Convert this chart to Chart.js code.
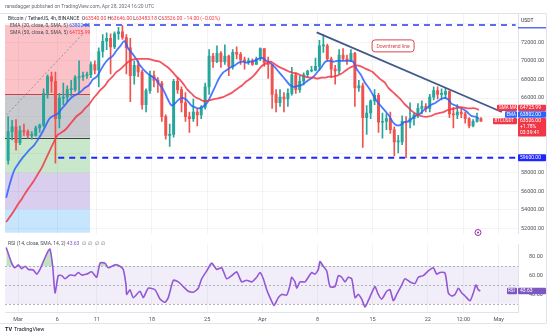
<!DOCTYPE html>
<html>
<head>
<meta charset="utf-8">
<title>BTCUSDT 4h</title>
<script src="https://cdn.jsdelivr.net/npm/chart.js@4.4.1/dist/chart.umd.min.js"></script>
<style>
  body { margin: 0; background: #fff; }
  #wrap { position: relative; width: 554px; height: 334px; overflow: hidden; background: #fff; }
  #wrap canvas { position: absolute; left: 0; }
  #main { top: 0; }
  #rsi { top: 238px; }
</style>
</head>
<body>
<div id="wrap">
  <canvas id="main" width="554" height="240"></canvas>
  <canvas id="rsi" width="554" height="96"></canvas>
</div>
<script>
// time is in days counted from Mar 1 2024 00:00 UTC, candles are 12h
const firstDay = -1.5;
const stepDay = 0.5;
const open0 = 59300;

const closes = [
  62400,62900,61200,62500,62400,62000,62000,62800,63100,66500,
  68300,67800,63800,66000,66100,66900,66900,68200,68300,68400,
  68500,69600,69000,71000,72100,72400,71500,72900,73100,72500,
  71400,68400,69500,68800,65300,66800,68400,67900,67600,64000,
  62000,62100,67800,66900,65500,64000,63800,64500,64200,65000,
  67200,70500,69900,70800,69900,70500,69400,70900,70700,70100,
  69900,70000,69600,70200,71300,69800,69600,66400,65500,66100,
  65900,66500,68500,66900,67800,68500,68900,69000,69400,71600,
  71600,70200,69100,68900,70600,70200,70000,70800,67100,67300,
  63900,64400,65700,66300,63400,63500,63800,62600,61300,61300,
  63500,63400,63800,64200,64900,65100,64900,66100,66800,66400,
  66400,66700,64300,64200,64500,64300,63800,63000,63500,63800,
  63526
];
const highs = [
  64000,63600,63700,63000,63200,62600,62400,63000,63200,67000,
  68500,68800,68800,66500,67600,67300,67900,68400,70000,68800,
  68800,69900,70000,71400,72800,73000,72900,73100,73600,73780,
  72800,72400,70000,70000,69000,67000,68900,68900,68200,67800,
  64200,63200,68000,68200,67200,66600,64500,65900,64900,65200,
  67600,71200,70800,71600,71000,71700,70600,71200,71500,70900,
  70400,70300,70200,70400,71400,71300,70400,69600,66900,66900,
  66600,67000,69300,68700,68400,68700,69000,69400,70300,72200,
  72800,71800,70400,69500,71200,71300,70600,71200,70900,67900,
  67600,65200,65800,66900,66500,64400,64300,64500,62900,62000,
  64100,64000,65500,64400,65400,65700,65400,66400,67200,67200,
  67000,67100,66800,65000,65300,64800,64500,63900,63700,64400,
  63900
];
const lows = [
  58900,61500,60400,61000,62000,61700,61600,61900,62300,62900,
  66000,66600,59000,62800,65300,65600,66200,66700,66600,67900,
  68100,68200,68600,67200,70400,71200,68600,71300,72300,72300,
  68600,65600,67500,68300,64800,64500,66500,67200,66600,63500,
  61600,60800,61800,66500,64500,63500,62300,63500,63000,63800,
  64800,66400,69300,69800,69300,69600,68400,69100,70200,69600,
  69100,69600,69500,69600,70000,69400,68100,64900,64500,65100,
  64500,65100,66300,66500,66600,67400,68200,68800,68900,69000,
  70900,70000,68200,67500,68600,70000,69600,69900,65100,66700,
  60700,62100,63800,65300,62300,61700,62600,62200,59800,60100,
  61000,59600,62800,63100,63900,64300,64500,64500,65800,65900,
  65800,66000,63900,62800,63800,63900,63300,62800,62900,63400,
  63480
];
const ema20 = [
  55300,56900,58200,58900,59500,60000,60500,60900,61500,62200,
  63000,63800,64100,64300,64800,65300,65800,66200,66400,66700,
  67100,67400,68000,68300,69000,69700,70200,70500,71100,71600,
  72100,71300,70800,70200,69500,69000,68600,68300,68000,67400,
  66800,65900,65200,65500,65900,66000,65700,65200,65000,64900,
  65100,65500,66300,67200,68100,68700,69000,69300,69500,69800,
  69900,69800,69900,70000,70200,70300,70000,69800,69400,68900,
  68400,67900,67400,67200,67300,67400,67700,68000,68300,68800,
  69300,69900,70000,69900,70000,70000,70000,70000,69900,69100,
  68500,67700,67100,66400,65700,65200,64700,64200,63500,63100,
  63100,63400,63500,63800,64100,64300,64700,65000,65300,65500,
  65800,66000,65900,65400,65200,65000,64800,64500,64100,64000,
  63802
];
const sma50 = [
  52700,53300,53900,54600,55200,55900,56500,57100,57800,58500,
  59400,60300,61200,62000,62300,62600,63100,63600,64100,64400,
  64900,65300,65900,66400,66900,67300,67900,68300,68800,69100,
  69500,69900,70100,70200,70200,70200,70200,70100,70000,69900,
  69600,69300,68900,68400,68000,67500,66900,66500,66100,65900,
  65700,65700,65800,65900,66000,66100,66300,66500,66800,67100,
  67400,67800,68100,68500,69000,69500,69700,69900,69700,69400,
  69200,69000,68800,68700,68600,68400,68300,68200,68200,68100,
  68200,68200,68300,68300,68400,68600,68900,69200,69400,69500,
  69400,69200,69000,68800,68400,68000,67700,67100,66700,66300,
  65900,65400,65000,64600,64300,64100,64000,64000,64100,64300,
  64400,64500,64700,64800,64900,65000,65000,64900,64900,64900,
  64726
];

const rsiDay = [
  -1.5,-0.8,-0.38,0.04,0.47,0.89,1.31,1.94,2.37,2.79,3.21,3.85,4.06,4.4,4.7,5.11,5.55,5.96,6.6,7.23,
  7.65,8.08,8.72,9.35,9.99,10.41,11.04,11.46,12.31,12.94,13.36,13.71,13.79,14.21,14.63,15.48,15.9,16.54,17.39,18.02,
  18.65,19.07,19.71,20.34,20.98,21.61,22.25,22.88,23.31,23.95,24.58,25.22,25.85,26.48,27.12,27.75,28.39,29.02,29.66,30.29,
  30.71,31.13,31.56,31.98,32.49,33.03,33.46,34.1,34.52,34.73,35.15,35.37,35.79,36.42,36.84,37.27,37.69,38.11,38.32,38.74,
  39.18,39.59,40.23,40.65,41.08,41.5,41.92,42.35,42.77,43.19,43.62,44.04,44.45,44.89,45.3,45.72,46.15,46.79,47.21,47.63,
  48.06,48.69,49.11,49.75,50.38,50.8,51.43,52.07,52.7,53.13,53.55,54.19,54.61,55.04,55.46,55.88,56.31,56.73,57.36,57.78,
  58.12,58.41,58.67
];
const rsiVal = [
  90,73.3,68.3,71.6,67.3,70,66.6,66,61.6,66.6,75,86.6,88.3,70,41.6,60,60,56.6,60.6,60,
  63.3,60.6,61.6,64,58.3,73.3,73.3,68.3,71.6,70,66.6,50,40,45,36.6,43.3,36.6,46.6,45,35,
  31.6,36.6,55,53.3,48.3,43.3,42.3,46.6,56.6,65,73.3,66.6,68.3,56.6,60,64,53.3,55,53.3,58.3,
  63.3,56.6,45,36.6,28.3,36.6,40,39.3,50,58.3,53.3,46.6,53.3,53.3,58.3,63.3,61.6,66.6,75,70,
  65,48.3,48.3,60,58.3,53.3,58.3,56.6,36.6,40,35,26.6,33.3,41.6,48.3,40,35,43.3,45,33.3,
  40,50,56.6,53.3,51.6,58.3,60,65,68.3,61.6,63.3,62.6,41.6,38.3,40,46.6,41.6,38.3,33.3,41.6,
  50,45,43.63
];

// last 4h bar shown in the legend
const lastBar = { o: 63540, h: 63646, l: 63483.18, c: 63526 };

const gridPrices = [52000,54000,56000,58000,60000,62000,64000,66000,68000,70000,72000,74000];
const priceTicks = [52000,54000,56000,58000,66000,68000,70000,72000];
const rsiTicks = [40,60,80];
const timeTicks = [0,5,10,17,24,31,38,45,52,56.5,61];
const timeLabels = ['Mar','6','11','18','25','Apr','8','15','22','12:00','May'];

// drawings
const supportLevel = 59600, supportFrom = 5.1;
const topLevel = 73850, topFrom = 8.25;
const trendFrom = [37.9, 73050], trendTo = [61.4, 64500];
const fibLevels = [73860, 66390, 61760, 57970, 54070, 51550];
const fibFrom = -1.65, fibTo = 9.14;
const fibDiag = [[-1.43, 64210], [8.38, 73020]];
const noteAt = [47.6, 71600];

const xMin = -1.65, xMax = 63.45;
const upCol = '#26a69a', downCol = '#ef5350';
const FONT = 'Roboto, "Liberation Sans", sans-serif';

const candles = closes.map((c, i) => ({
  x: firstDay + stepDay * i + stepDay / 2,
  o: i ? closes[i - 1] : open0,
  h: highs[i], l: lows[i], c
}));
const candleCol = candles.map(k => k.c >= k.o ? upCol : downCol);
const lineDays = closes.map((_, i) => firstDay + stepDay * i);

function box(ctx, x, y, w, h, bg, r) {
  ctx.fillStyle = bg;
  ctx.beginPath();
  ctx.roundRect(x, y, w, h, r || 1);
  ctx.fill();
}
function write(ctx, s, x, y, color, size, weight) {
  ctx.font = (weight || '') + ' ' + size + 'px ' + FONT;
  ctx.fillStyle = color;
  ctx.fillText(s, x, y);
  return x + ctx.measureText(s).width;
}

const mainOverlay = {
  id: 'mainOverlay',
  beforeDatasetsDraw(chart) {
    const { ctx, scales: { x, y } } = chart;
    const fills = ['rgba(242,54,69,0.3)', 'rgba(120,123,134,0.4)', 'rgba(76,175,80,0.3)',
                   'rgba(103,58,183,0.25)', 'rgba(33,150,243,0.25)'];
    const x0 = x.getPixelForValue(fibFrom), x1 = x.getPixelForValue(fibTo);
    ctx.save();
    for (let i = 0; i < fibLevels.length - 1; i++) {
      const ya = y.getPixelForValue(fibLevels[i]), yb = y.getPixelForValue(fibLevels[i + 1]);
      ctx.fillStyle = fills[i];
      ctx.fillRect(x0, ya, x1 - x0, yb - ya);
    }
    ctx.lineWidth = 1;
    ctx.strokeStyle = 'rgba(200,50,55,0.9)';
    let ly = Math.round(y.getPixelForValue(fibLevels[1])) + 0.5;
    ctx.beginPath(); ctx.moveTo(x0, ly); ctx.lineTo(x1, ly); ctx.stroke();
    ctx.strokeStyle = 'rgba(50,50,55,0.9)';
    ly = Math.round(y.getPixelForValue(fibLevels[2])) + 0.5;
    ctx.beginPath(); ctx.moveTo(x0, ly); ctx.lineTo(x1, ly); ctx.stroke();
    ctx.restore();
  },
  afterDraw(chart) {
    const { ctx, scales: { x, y } } = chart;
    ctx.save();
    ctx.textBaseline = 'middle';

    // legend block
    write(ctx, 'ranadagger published on TradingView.com, Apr 28, 2024 16:20 UTC', 5, 7, '#6a6d78', 5);
    let cx = write(ctx, 'Bitcoin / TetherUS, 4h, BINANCE', 8, 19, '#2a2e39', 5);
    const red = '#f23645';
    cx = write(ctx, '  O', cx, 19, '#2a2e39', 5); cx = write(ctx, lastBar.o.toFixed(2), cx, 19, red, 5);
    cx = write(ctx, ' H', cx, 19, '#2a2e39', 5); cx = write(ctx, lastBar.h.toFixed(2), cx, 19, red, 5);
    cx = write(ctx, ' L', cx, 19, '#2a2e39', 5); cx = write(ctx, lastBar.l.toFixed(2), cx, 19, red, 5);
    cx = write(ctx, ' C', cx, 19, '#2a2e39', 5); cx = write(ctx, lastBar.c.toFixed(2), cx, 19, red, 5);
    const chg = lastBar.c - lastBar.o;
    write(ctx, ' \u2212' + Math.abs(chg).toFixed(2) + ' (\u2212' + Math.abs(chg / lastBar.o * 100).toFixed(2) + '%)', cx, 19, red, 5);
    cx = write(ctx, 'EMA (20, close, 0, SMA, 5)', 10, 26, '#4a4d58', 5);
    write(ctx, ' ' + ema20[ema20.length - 1].toFixed(2), cx, 26, '#2962ff', 5);
    cx = write(ctx, 'SMA (50, close, 0, SMA, 5)', 10, 33, '#4a4d58', 5);
    write(ctx, ' 64725.99', cx, 33, red, 5);

    // price scale header
    write(ctx, 'USDT', 521, 21, '#2a2e39', 5);
    ctx.fillStyle = '#5b6cf0';
    ctx.fillRect(518, 27, 28, 1.5);

    // note on the trend line
    const nx = x.getPixelForValue(noteAt[0]), ny = y.getPixelForValue(noteAt[1]);
    ctx.fillStyle = 'rgba(255,255,255,0.9)';
    ctx.strokeStyle = '#d8474f';
    ctx.lineWidth = 1;
    ctx.beginPath(); ctx.roundRect(nx - 21, ny - 6, 42, 12, 3); ctx.fill(); ctx.stroke();
    ctx.textAlign = 'center';
    write(ctx, 'Downtrend line', nx, ny + 0.5, '#d8474f', 5);
    ctx.textAlign = 'left';

    // value tags on the price scale
    const priceY = y.getPixelForValue(closes[closes.length - 1]);
    const pTop = priceY - 3.2, emaTop = pTop - 6.6, smaTop = emaTop - 6.6;
    box(ctx, 518, smaTop, 28, 6.4, red);
    write(ctx, '64725.99', 520, smaTop + 3.3, '#fff', 5);
    box(ctx, 497, smaTop, 20, 6.4, red);
    write(ctx, 'SMA MA', 499, smaTop + 3.3, '#fff', 4.5);
    box(ctx, 518, emaTop, 28, 6.4, '#2962ff');
    write(ctx, ema20[ema20.length - 1].toFixed(2), 520, emaTop + 3.3, '#fff', 5);
    box(ctx, 505, emaTop, 12, 6.4, '#2962ff');
    write(ctx, 'EMA', 506.5, emaTop + 3.3, '#fff', 4.5);
    box(ctx, 518, pTop, 28, 18.5, red);
    write(ctx, lastBar.c.toFixed(2), 520, pTop + 3.3, '#fff', 5);
    write(ctx, '+1.78%', 520, pTop + 9.2, '#fff', 5);
    write(ctx, '03:39:41', 520, pTop + 15, '#fff', 5);
    box(ctx, 493, pTop, 24, 6.4, red);
    write(ctx, 'BTCUSDT', 494.5, pTop + 3.3, '#fff', 4.5);

    const sy = y.getPixelForValue(supportLevel);
    box(ctx, 518, sy - 3.5, 28, 7, '#1e26ff');
    write(ctx, supportLevel.toFixed(2), 520, sy, '#fff', 5);

    // alert marker
    ctx.strokeStyle = '#9c27b0';
    ctx.lineWidth = 1;
    ctx.beginPath(); ctx.arc(478, 232.5, 3, 0, Math.PI * 2); ctx.stroke();
    ctx.fillStyle = '#9c27b0';
    ctx.beginPath(); ctx.arc(478, 232.5, 1, 0, Math.PI * 2); ctx.fill();

    // frame
    ctx.strokeStyle = '#e0e3eb';
    ctx.beginPath(); ctx.moveTo(0, 13.5); ctx.lineTo(546, 13.5); ctx.moveTo(546.5, 13.5); ctx.lineTo(546.5, 240); ctx.stroke();
    ctx.restore();
  }
};

const priceLine = (data, color, width, extra) => Object.assign({
  type: 'line', data, borderColor: color, borderWidth: width, pointRadius: 0, order: 1
}, extra || {});

new Chart(document.getElementById('main'), {
  type: 'bar',
  data: {
    datasets: [
      priceLine(lineDays.map((d, i) => ({ x: d, y: sma50[i] })), 'rgba(242,54,69,0.85)', 1.8, { tension: 0.4 }),
      priceLine(lineDays.map((d, i) => ({ x: d, y: ema20[i] })), 'rgba(41,98,255,0.85)', 1.8, { tension: 0.4 }),
      priceLine([{ x: supportFrom, y: supportLevel }, { x: xMax - 0.3, y: supportLevel }], '#1e26ff', 2, { borderDash: [6, 5], order: 0 }),
      priceLine([{ x: topFrom, y: topLevel }, { x: xMax - 0.3, y: topLevel }], '#5b6cf0', 2, { borderDash: [6, 5], order: 0 }),
      priceLine([{ x: trendFrom[0], y: trendFrom[1] }, { x: trendTo[0], y: trendTo[1] }], '#41598b', 1.8, { order: 0 }),
      priceLine(fibDiag.map(p => ({ x: p[0], y: p[1] })), 'rgba(120,123,134,0.7)', 1, { borderDash: [2, 2], order: 4 }),
      {
        type: 'bar', order: 3, grouped: false, barThickness: 1,
        data: candles.map(k => ({ x: k.x, y: [k.l, k.h] })),
        backgroundColor: candleCol
      },
      {
        type: 'bar', order: 2, grouped: false, barThickness: 2.3, minBarLength: 1,
        data: candles.map(k => ({ x: k.x, y: [Math.min(k.o, k.c), Math.max(k.o, k.c)] })),
        backgroundColor: candleCol
      }
    ]
  },
  options: {
    responsive: false, animation: false, devicePixelRatio: 1,
    layout: { padding: { left: 5, top: 14, right: 0, bottom: 2 } },
    plugins: { legend: { display: false }, tooltip: { enabled: false } },
    scales: {
      x: {
        type: 'linear', min: xMin, max: xMax, offset: false,
        afterBuildTicks: s => { s.ticks = timeTicks.map(v => ({ value: v })); },
        ticks: { display: false },
        grid: { color: 'rgba(42,46,57,0.05)', drawTicks: false, offset: false },
        border: { display: false },
        afterFit: s => { s.height = 0; }
      },
      y: {
        type: 'linear', position: 'right', min: 51442, max: 75021,
        afterBuildTicks: s => { s.ticks = gridPrices.map(v => ({ value: v })); },
        ticks: {
          callback: v => priceTicks.includes(v) ? v.toFixed(2) : '',
          font: { size: 5.5, family: FONT }, color: '#50535e', padding: 3
        },
        grid: { color: 'rgba(42,46,57,0.05)', drawTicks: false },
        border: { color: '#e0e3eb' },
        afterFit: s => { s.width = 36; }
      }
    }
  },
  plugins: [mainOverlay]
});

const rsiOverlay = {
  id: 'rsiOverlay',
  beforeDatasetsDraw(chart) {
    const { ctx, chartArea: a, scales: { y } } = chart;
    ctx.save();
    ctx.fillStyle = 'rgba(126,87,194,0.1)';
    const y70 = y.getPixelForValue(70), y30 = y.getPixelForValue(30);
    ctx.fillRect(a.left, y70, a.right - a.left, y30 - y70);
    ctx.strokeStyle = 'rgba(120,123,134,0.55)';
    ctx.lineWidth = 1;
    ctx.setLineDash([2, 2]);
    [70, 50, 30].forEach(v => {
      const ly = Math.round(y.getPixelForValue(v)) + 0.5;
      ctx.beginPath(); ctx.moveTo(a.left, ly); ctx.lineTo(a.right, ly); ctx.stroke();
    });
    ctx.restore();
  },
  afterDraw(chart) {
    const { ctx, scales: { y } } = chart;
    ctx.save();
    ctx.textBaseline = 'middle';
    const last = rsiVal[rsiVal.length - 1];
    let cx = write(ctx, 'RSI (14, close, SMA, 14, 2)', 8, 6, '#4a4d58', 5);
    cx = write(ctx, ' ' + last.toFixed(2), cx, 6, '#7e57c2', 5);
    write(ctx, '  \u2205  \u2205  \u2205  \u2205', cx, 6, '#6a6d78', 5);
    const ly = y.getPixelForValue(last);
    box(ctx, 518, ly - 3.3, 28, 6.6, '#7e57c2');
    write(ctx, last.toFixed(2), 520, ly, '#fff', 5);
    box(ctx, 507, ly - 3.3, 10, 6.6, '#7e57c2');
    write(ctx, 'RSI', 508, ly, '#fff', 4.5);
    // logo
    write(ctx, 'TV', 5, 92, '#131722', 5.5, 'bold');
    write(ctx, 'TradingView', 14, 92, '#131722', 5.5);
    ctx.strokeStyle = '#e0e3eb';
    ctx.beginPath(); ctx.moveTo(0, 85.5); ctx.lineTo(546, 85.5); ctx.moveTo(546.5, 0); ctx.lineTo(546.5, 85.5); ctx.stroke();
    ctx.restore();
  }
};

const rsiPoints = rsiDay.map((d, i) => ({ x: d, y: rsiVal[i] }));
new Chart(document.getElementById('rsi'), {
  type: 'line',
  data: {
    datasets: [
      {
        data: rsiPoints, borderColor: '#9457d6', borderWidth: 1.6, pointRadius: 0, tension: 0.2,
        fill: { target: { value: 70 }, above: 'rgba(76,175,80,0.35)', below: 'rgba(0,0,0,0)' }
      },
      {
        data: rsiPoints, borderWidth: 0, pointRadius: 0, tension: 0.2,
        fill: { target: { value: 30 }, above: 'rgba(0,0,0,0)', below: 'rgba(242,54,69,0.2)' }
      }
    ]
  },
  options: {
    responsive: false, animation: false, devicePixelRatio: 1,
    layout: { padding: { left: 5, top: 2, right: 0, bottom: 0 } },
    plugins: { legend: { display: false }, tooltip: { enabled: false } },
    scales: {
      x: {
        type: 'linear', min: xMin, max: xMax,
        afterBuildTicks: s => { s.ticks = timeTicks.map(v => ({ value: v })); },
        ticks: {
          callback: v => timeLabels[timeTicks.indexOf(v)],
          font: { size: 5.5, family: FONT }, color: '#50535e', padding: 4,
          maxRotation: 0, autoSkip: false
        },
        grid: { color: 'rgba(42,46,57,0.05)', drawTicks: false },
        border: { color: '#e0e3eb' },
        afterFit: s => { s.height = 22; }
      },
      y: {
        type: 'linear', position: 'right', min: 21.3, max: 93.3,
        afterBuildTicks: s => { s.ticks = rsiTicks.map(v => ({ value: v })); },
        ticks: { callback: v => v.toFixed(2), font: { size: 5.5, family: FONT }, color: '#50535e', padding: 3 },
        grid: { display: false },
        border: { color: '#e0e3eb' },
        afterFit: s => { s.width = 36; }
      }
    }
  },
  plugins: [rsiOverlay]
});
</script>
</body>
</html>
